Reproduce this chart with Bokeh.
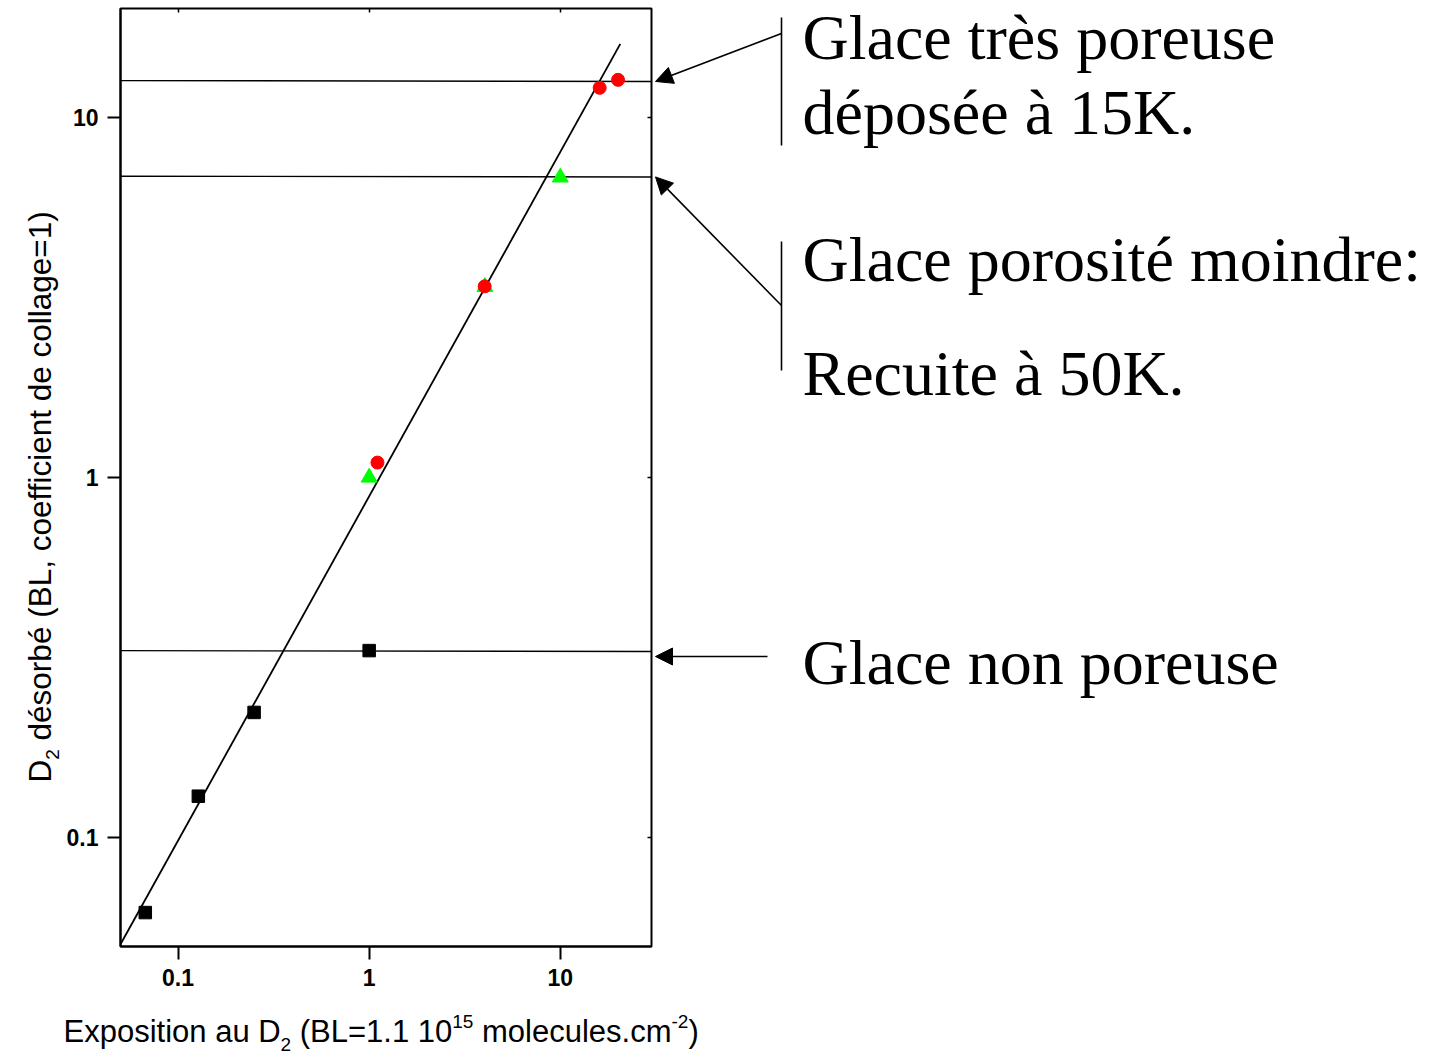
import math
from bokeh.plotting import figure
from bokeh.layouts import row, column
from bokeh.models import (Range1d, FixedTicker, CustomJSTickFormatter, Arrow, NormalHead,
                          Label, LogAxis)
from bokeh.embed import file_html
from bokeh.resources import INLINE

# ---- data ----
sq_x = [0.0674, 0.1277, 0.25, 1.0]          # Glace non poreuse (black squares)
sq_y = [0.0621, 0.1306, 0.223, 0.331]
tri_x = [1.0, 4.03, 10.0]                   # Glace recuite à 50K (green triangles)
tri_y = [1.0, 3.38, 6.80]
cir_x = [1.105, 4.02, 16.07, 20.05]         # Glace très poreuse (red circles)
cir_y = [1.10, 3.39, 12.05, 12.68]
fit_x = [0.05, 20.6]                        # straight fit line (log-log)
fit_y = [0.0507, 15.96]
level_left = [12.62, 6.85, 0.331]           # saturation levels (horizontal lines)
level_right = [12.55, 6.82, 0.329]
x_ticks = [0.1, 1, 10]
y_ticks = [0.1, 1, 10]
x_label_parts = ["Exposition au D", "2", " (BL=1.1 10", "15", " molecules.cm", "-2", ")"]
x_label_kind = ["n", "sub", "n", "sup", "n", "sup", "n"]
y_label_parts = ["D", "2", " désorbé (BL, coefficient de collage=1)"]
y_label_kind = ["n", "sub", "n"]
notes = ["Glace très poreuse", "déposée à 15K.", "Glace porosité moindre:", "Recuite à 50K.", "Glace non poreuse"]

X0, X1 = 0.05, 30
Y0, Y1 = 0.05, 20

# ---- page geometry (pixels) ----
W, H = 1431, 1055
YLAB_W = 62            # width of the y-title strip
TOP_H = 1005           # height of the plot row
FL, FR, FT, FB = 120, 651, 8, 946
LY0, LY1 = math.log10(Y0), math.log10(Y1)


def page_y(v):
    """page pixel row of a data value on the log y axis"""
    return FT + (LY1 - math.log10(v)) * (FB - FT) / (LY1 - LY0)


BASE_OFF = 0.33  # label baseline correction (em)


def blank(width, height, x0, x1, y0, y1):
    f = figure(width=width, height=height, x_range=Range1d(x0, x1), y_range=Range1d(y0, y1),
               output_backend="svg", toolbar_location=None,
               x_axis_location=None, y_axis_location=None, min_border=0)
    f.grid.visible = False
    f.outline_line_color = None
    f.background_fill_color = "white"
    f.border_fill_color = "white"
    return f


# ---- main chart ----
MAIN_W = 592
p = figure(width=MAIN_W, height=TOP_H, x_axis_type="log", y_axis_type="log",
           x_range=Range1d(X0, X1), y_range=Range1d(Y0, Y1),
           output_backend="svg", toolbar_location=None,
           min_border_left=FL - YLAB_W, min_border_right=YLAB_W + MAIN_W - FR,
           min_border_top=FT, min_border_bottom=TOP_H - FB)
p.grid.visible = False
p.outline_line_color = "black"
p.outline_line_width = 2
p.background_fill_color = "white"
p.border_fill_color = "white"

fmt = CustomJSTickFormatter(code="return tick.toString();")
for ax, ticks in ((p.xaxis[0], x_ticks), (p.yaxis[0], y_ticks)):
    ax.ticker = FixedTicker(ticks=ticks, minor_ticks=[])
    ax.formatter = fmt
    ax.axis_line_width = 2
    ax.major_tick_line_width = 2
    ax.major_tick_in = 0
    ax.major_tick_out = 13
    ax.minor_tick_line_color = None
    ax.major_label_text_font = "Liberation Sans"
    ax.major_label_text_font_style = "bold"
    ax.major_label_text_font_size = "23px"
    ax.major_label_text_color = "black"
    ax.major_label_standoff = 9

# tiny inward ticks on the top and right edges
for loc, ticks in (("above", x_ticks), ("right", y_ticks)):
    ax = LogAxis(ticker=FixedTicker(ticks=ticks, minor_ticks=[]),
                 formatter=CustomJSTickFormatter(code="return '';"),
                 axis_line_color=None, major_tick_in=4, major_tick_out=0,
                 major_tick_line_width=1.5, minor_tick_line_color=None,
                 major_label_text_font_size="1px", major_label_standoff=0)
    p.add_layout(ax, loc)

p.segment(x0=[X0] * 3, y0=level_left, x1=[X1] * 3, y1=level_right, line_color="black", line_width=1.4)
p.line(fit_x, fit_y, line_color="black", line_width=1.8)
p.scatter(sq_x, sq_y, marker="square", size=12.5, fill_color="black", line_color="black")
p.scatter(tri_x, tri_y, marker="triangle", size=16, fill_color="#00ff00", line_color="#00ff00")
p.scatter(cir_x, cir_y, marker="circle", size=13, fill_color="#ff0000", line_color="#ff0000")

# ---- text width table (Arial / Liberation Sans advance widths) ----
AW = {' ': 278, '(': 333, ')': 333, '.': 278, ',': 278, '-': 333, '=': 584,
      '0': 556, '1': 556, '2': 556, '5': 556,
      'E': 667, 'x': 500, 'p': 556, 'o': 556, 's': 500, 'i': 222, 't': 278, 'n': 556,
      'a': 556, 'u': 556, 'D': 722, 'B': 667, 'L': 556, 'm': 833, 'l': 222, 'e': 556,
      'c': 500, 'é': 556, 'r': 333, 'b': 556, 'f': 278, 'd': 556, 'g': 556}


def tw(s, size):
    return sum(AW.get(ch, 556) for ch in s) * size / 1000.0


SMALL = 19

# ---- y title strip (page pixel coordinates inside the aligned frame) ----
fy = blank(YLAB_W, TOP_H, 0, YLAB_W, FB, FT)
cy = 782.0
YMAIN = 31.5
YSHIFT = {"n": 0, "sub": 8}
for t, k in zip(y_label_parts, y_label_kind):
    sz = YMAIN if k == "n" else SMALL
    lead = len(t) - len(t.lstrip(" "))
    cy -= tw(" " * lead, sz)
    s = t.lstrip(" ")
    base = 50 + YSHIFT[k] - BASE_OFF * sz
    fy.add_layout(Label(x=base, y=cy, text=s, text_font="Liberation Sans",
                        text_font_size=f"{sz}px", text_color="black", angle=math.pi / 2,
                        text_align="left", text_baseline="alphabetic"))
    cy -= tw(s, sz)

# ---- annotation panel (page pixel coordinates inside the aligned frame) ----
AX0 = YLAB_W + MAIN_W
fa = blank(W - AX0, TOP_H, AX0, W, FB, FT)
bar = dict(line_color="black", line_width=1.6, end=None)
fa.add_layout(Arrow(x_start=781, y_start=17, x_end=781, y_end=145, **bar))
fa.add_layout(Arrow(x_start=781, y_start=241, x_end=781, y_end=370, **bar))
head = dict(size=17, fill_color="black", line_color="black", line_width=1)
fa.add_layout(Arrow(x_start=781, y_start=33, x_end=655, y_end=page_y(level_right[0]),
                    end=NormalHead(**head), line_width=1.6, line_color="black"))
fa.add_layout(Arrow(x_start=781, y_start=305, x_end=655, y_end=page_y(level_right[1]),
                    end=NormalHead(**head), line_width=1.6, line_color="black"))
fa.add_layout(Arrow(x_start=767, y_start=656, x_end=655, y_end=656,
                    end=NormalHead(**head), line_width=1.6, line_color="black"))
NOTE_SIZE = 64
note_base = [58, 133, 280, 394, 683]
for t, b in zip(notes, note_base):
    fa.add_layout(Label(x=802, y=b - BASE_OFF * NOTE_SIZE, text=t, text_font="Liberation Serif",
                        text_font_size=f"{NOTE_SIZE}px", text_color="black",
                        text_baseline="alphabetic", text_align="left"))

# ---- x title strip (page pixel coordinates) ----
fx = blank(W, H - TOP_H, 0, W, H, TOP_H)
cx = 63.0
XMAIN = 31
SHIFT = {"n": 0, "sub": 9, "sup": -14}
for t, k in zip(x_label_parts, x_label_kind):
    sz = XMAIN if k == "n" else SMALL
    lead = len(t) - len(t.lstrip(" "))
    cx += tw(" " * lead, sz)
    s = t.lstrip(" ")
    fx.add_layout(Label(x=cx, y=1041 + SHIFT[k] - BASE_OFF * sz, text=s, text_font="Liberation Sans",
                        text_font_size=f"{sz}px", text_color="black",
                        text_align="left", text_baseline="alphabetic"))
    cx += tw(s, sz)

layout = column(row(fy, p, fa, spacing=0), fx, spacing=0)
open("out.html", "w").write(file_html(layout, INLINE))
